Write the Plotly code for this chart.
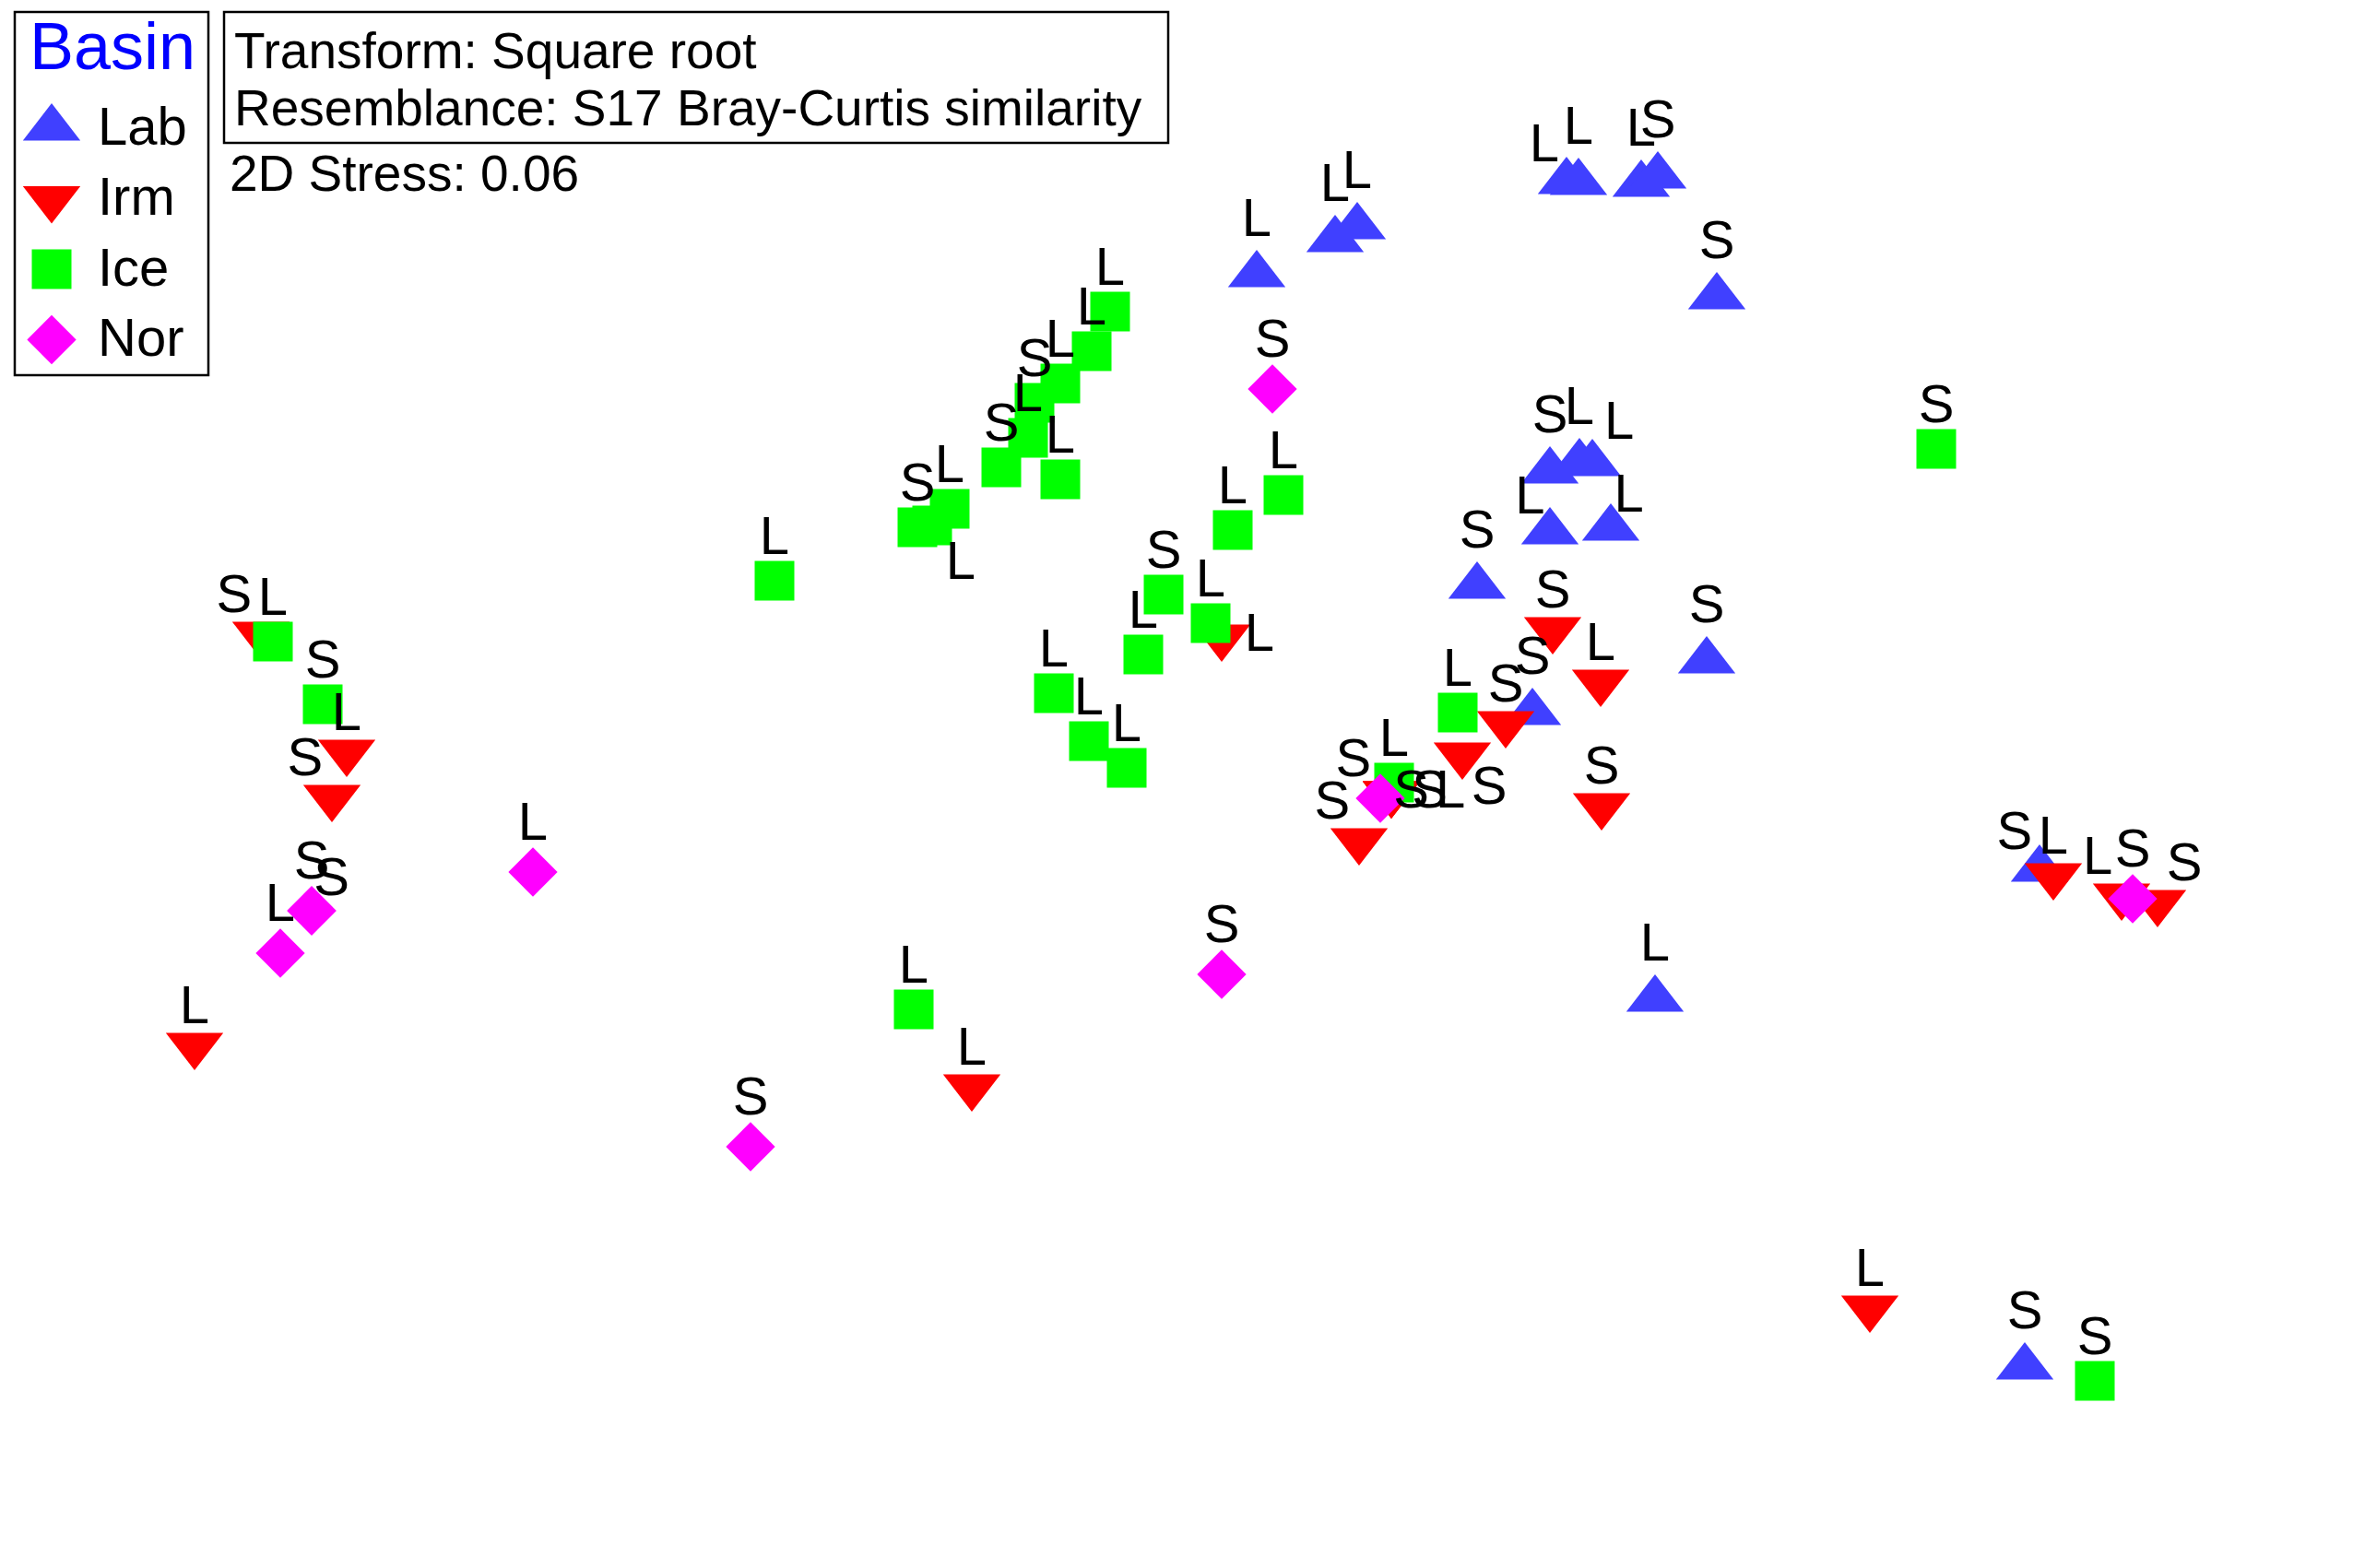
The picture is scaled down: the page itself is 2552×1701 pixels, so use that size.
import plotly.graph_objects as go

# nMDS ordination (Transform: square root, S17 Bray-Curtis); coordinates
# plotted on the 2552x1701 image grid (y grows downward)
lab_x = [1363, 1448, 1472, 1699, 1712, 1780, 1798, 1862, 1681, 1713, 1727, 1681, 1747, 1602, 1851, 1662, 1795, 2212, 2196]
lab_y = [298, 260, 246, 197, 198, 200, 191, 322, 511, 502, 503, 577, 573, 636, 717, 773, 1084, 943, 1483]
lab_lbl = ['L', 'L', 'L', 'L', 'L', 'L', 'S', 'S', 'S', 'L', 'L', 'L', 'L', 'S', 'S', 'S', 'L', 'S', 'S']

irm_x = [283, 376, 360, 211, 1054, 1325, 1684, 1736, 1633, 1586, 1474, 1509, 1509, 1509, 1737, 2028, 2227, 2301, 2340]
irm_y = [688, 816, 865, 1134, 1179, 691, 683, 740, 785, 819, 912, 861, 861, 861, 874, 1419, 950, 972, 979]
irm_lbl = ['S', 'L', 'S', 'L', 'L', 'L', 'S', 'L', 'S', 'S', 'S', 'S', 'S', 'L', 'S', 'L', 'L', 'L', 'S']

ice_x = [296, 350, 840, 1011, 995, 1030, 1204, 1184, 1150, 1122, 1115, 1086, 1150, 1392, 1337, 1262, 1313,
         1240, 1143, 1181, 1222, 1581, 1512, 991, 2100, 2272]
ice_y = [696, 764, 630, 570, 572, 552, 338, 381, 416, 437, 475, 507, 520, 537, 575, 645, 676,
         710, 752, 804, 833, 773, 849, 1095, 487, 1498]
ice_lbl = ['L', 'S', 'L', 'L', 'S', 'L', 'L', 'L', 'L', 'S', 'L', 'S', 'L', 'L', 'L', 'S', 'L',
           'L', 'L', 'L', 'L', 'L', 'L', 'L', 'S', 'S']

nor_x = [1380, 578, 338, 338, 304, 814, 1325, 1497, 2313]
nor_y = [422, 946, 988, 988, 1034, 1244, 1057, 866, 975]
nor_lbl = ['S', 'L', 'S', 'S', 'L', 'S', 'S', 'S', 'S']

basins = ['Lab', 'Irm', 'Ice', 'Nor']

FONT = 'Arial, Liberation Sans, sans-serif'
W, H = 2552, 1701


def per_point(n, default, special):
    # style value for each point: the default unless the label was moved in the original
    return [special.get(i, default) for i in range(n)]


# label placement around each symbol
lab_pos = per_point(len(lab_x), 'top center', {3: 'top left', 10: 'top right', 11: 'top left', 12: 'top right', 17: 'top left'})
irm_pos = per_point(len(irm_x), 'top center', {0: 'top left', 2: 'top left', 5: 'middle right', 9: 'bottom right',
                                               10: 'top left', 11: 'middle right', 12: 'middle right', 13: 'middle right',
                                               17: 'top left', 18: 'top right'})
ice_pos = per_point(len(ice_x), 'top center', {3: 'bottom right'})
nor_pos = per_point(len(nor_x), 'top center', {3: 'top right', 7: 'top left'})

# label distance from the symbol (as an invisible marker size)
lab_gap = per_point(len(lab_x), 42, {3: 11, 10: 19, 11: 7, 12: 4, 17: 11})
irm_gap = per_point(len(irm_x), 14, {5: 38, 11: 2, 12: 34, 13: 75})
ice_gap = per_point(len(ice_x), 22, {})
nor_gap = per_point(len(nor_x), 32, {3: 2, 7: 14})

# name, x, y, labels, label positions, label gaps, symbol, colour, symbol size
groups = [
    ('Lab', lab_x, lab_y, lab_lbl, lab_pos, lab_gap, 'triangle-up', '#4040ff', 54),
    ('Irm', irm_x, irm_y, irm_lbl, irm_pos, irm_gap, 'triangle-down', '#ff0000', 54),
    ('Ice', ice_x, ice_y, ice_lbl, ice_pos, ice_gap, 'square', '#00ff00', 43),
    ('Nor', nor_x, nor_y, nor_lbl, nor_pos, nor_gap, 'diamond', '#ff00ff', 41),
]

fig = go.Figure()

for name, xs, ys, lbl, pos, gap, sym, col, msize in groups:
    fig.add_trace(go.Scatter(x=xs, y=ys, mode='markers', name=name, showlegend=False,
                             marker=dict(symbol=sym, color=col, size=msize, line=dict(width=0)),
                             cliponaxis=False))

# sample labels drawn on top of every symbol
for name, xs, ys, lbl, pos, gap, sym, col, msize in groups:
    fig.add_trace(go.Scatter(x=xs, y=ys, mode='markers+text', text=lbl, textposition=pos,
                             marker=dict(size=gap, color='rgba(0,0,0,0)', opacity=0,
                                         line=dict(width=0, color='rgba(0,0,0,0)')),
                             textfont=dict(family=FONT, size=58, color='black'),
                             showlegend=False, hoverinfo='skip', cliponaxis=False))

# ---- hand-drawn legend box (top left) ----
LEG_X, LEG_Y0, LEG_DY = 56, 139, 76.5
fig.add_shape(type='rect', xref='x', yref='y', x0=16, y0=13, x1=226, y1=407,
              line=dict(color='black', width=2.5))
fig.add_annotation(x=122, y=50, xref='x', yref='y', text='Basin', showarrow=False,
                   font=dict(family=FONT, size=72, color='#0000ff'), xanchor='center', yanchor='middle')
for i, (name, xs, ys, lbl, pos, gap, sym, col, msize) in enumerate(groups):
    fig.add_trace(go.Scatter(x=[LEG_X], y=[LEG_Y0 + i * LEG_DY], mode='markers', showlegend=False,
                             hoverinfo='skip', cliponaxis=False,
                             marker=dict(symbol=sym, color=col, size=msize, line=dict(width=0))))
    fig.add_annotation(x=104, y=LEG_Y0 - 3 + i * LEG_DY, xref='x', yref='y', text=name, showarrow=False,
                       font=dict(family=FONT, size=58, color='black'), xanchor='left', yanchor='middle')

# ---- info box ----
fig.add_shape(type='rect', xref='x', yref='y', x0=243, y0=13, x1=1267, y1=155,
              line=dict(color='black', width=2.5))
fig.add_annotation(x=252, y=55, xref='x', yref='y', text='Transform: Square root', showarrow=False,
                   font=dict(family=FONT, size=55, color='black'), xanchor='left', yanchor='middle')
fig.add_annotation(x=252, y=117, xref='x', yref='y', text='Resemblance: S17 Bray-Curtis similarity',
                   showarrow=False, font=dict(family=FONT, size=55, color='black'),
                   xanchor='left', yanchor='middle')
fig.add_annotation(x=247, y=188, xref='x', yref='y', text='2D Stress: 0.06', showarrow=False,
                   font=dict(family=FONT, size=55, color='black'), xanchor='left', yanchor='middle')

fig.update_layout(
    width=W, height=H,
    margin=dict(l=0, r=0, t=0, b=0),
    paper_bgcolor='white', plot_bgcolor='white',
    xaxis=dict(range=[0, W], visible=False, fixedrange=True),
    yaxis=dict(range=[H, 0], visible=False, fixedrange=True),
    showlegend=False,
)

# the page's default body margin would push the figure 8px off the window origin
fig.write_html("out.html", config={'displayModeBar': False},
               post_script="document.body.style.margin='0px';")
